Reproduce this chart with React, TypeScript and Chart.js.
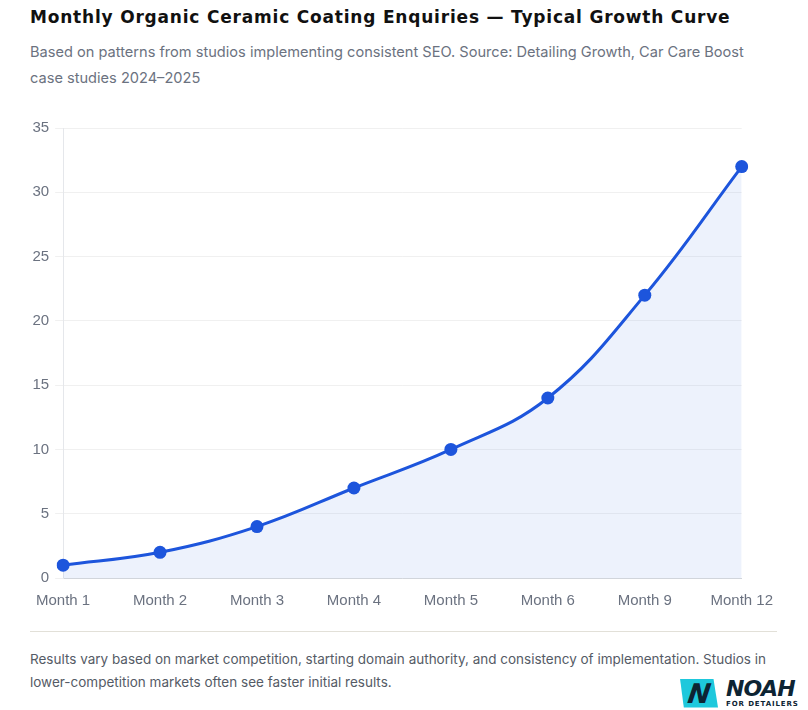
import React, { useEffect, useRef } from "react";
import { Chart, registerables } from "chart.js";

Chart.register(...registerables);

const categories = ["Month 1", "Month 2", "Month 3", "Month 4", "Month 5", "Month 6", "Month 9", "Month 12"];
const enquiries = [1, 2, 4, 7, 10, 14, 22, 32];
const yMax = 35;
const yStep = 5;

const TITLE = "Monthly Organic Ceramic Coating Enquiries \u2014 Typical Growth Curve";
const SUBTITLE = "Based on patterns from studios implementing consistent SEO. Source: Detailing Growth, Car Care Boost case studies 2024\u20132025";
const FOOTNOTE = "Results vary based on market competition, starting domain authority, and consistency of implementation. Studios in lower-competition markets often see faster initial results.";

function GrowthChart() {
  const ref = useRef<HTMLCanvasElement | null>(null);
  useEffect(() => {
    if (!ref.current) return;
    const chart = new Chart(ref.current, {
      type: "line",
      data: {
        labels: categories,
        datasets: [
          {
            label: "Enquiries",
            data: enquiries,
            borderColor: "#1d55dc",
            backgroundColor: "rgba(29,85,220,0.08)",
            borderWidth: 3,
            fill: "origin",
            tension: 0.4,
            pointRadius: 6.5,
            pointBackgroundColor: "#1d55dc",
            pointBorderColor: "#1d55dc",
            pointBorderWidth: 0,
          },
        ],
      },
      options: {
        animation: false,
        responsive: true,
        maintainAspectRatio: false,
        layout: { padding: { top: 4, right: 0, left: 0, bottom: 0 } },
        plugins: { legend: { display: false }, tooltip: { enabled: false } },
        scales: {
          x: {
            grid: { display: false, drawTicks: false },
            border: { display: true, color: "#d1d5db" },
            ticks: {
              color: "#6b7280",
              font: { family: "'Liberation Sans', Arial, sans-serif", size: 15 },
              padding: 14,
            },
          },
          y: {
            min: 0,
            max: yMax,
            grid: { color: "rgba(0,0,0,0.06)", tickLength: 8 },
            border: { display: true, color: "#e5e7eb" },
            ticks: {
              stepSize: yStep,
              color: "#6b7280",
              font: { family: "'Liberation Sans', Arial, sans-serif", size: 15 },
              padding: 6,
            },
          },
        },
      },
    });
    return () => chart.destroy();
  }, []);
  return <canvas ref={ref} />;
}

function Logo() {
  return (
    <div style={{ position: "absolute", left: 680, top: 678, width: 128, height: 30, display: "flex", alignItems: "center", whiteSpace: "nowrap" }}>
      <div
        style={{
          width: 38,
          height: 29,
          flexShrink: 0,
          background: "#1ec8dc",
          clipPath: "polygon(0 0, 88% 0, 100% 100%, 10% 100%)",
          display: "flex",
          alignItems: "center",
          justifyContent: "center",
        }}
      >
        <span style={{ fontFamily: "'DejaVu Sans', sans-serif", fontWeight: 900, fontStyle: "italic", fontSize: 27, color: "#0d2433", lineHeight: 1, transform: "skewX(-8deg)" }}>N</span>
      </div>
      <div style={{ marginLeft: 8, display: "flex", flexDirection: "column", lineHeight: 1, whiteSpace: "nowrap" }}>
        <span style={{ fontFamily: "'DejaVu Sans', sans-serif", fontWeight: 900, fontStyle: "italic", fontSize: 22, color: "#0d2433", letterSpacing: -1 }}>NOAH</span>
        <span style={{ fontFamily: "'DejaVu Sans', sans-serif", fontWeight: 700, fontSize: 7, color: "#0d2433", letterSpacing: 0.9, marginTop: 1, whiteSpace: "nowrap" }}>FOR DETAILERS</span>
      </div>
    </div>
  );
}

export default function App() {
  return (
    <div style={{ position: "fixed", left: 0, top: 0, width: 808, height: 710, background: "#ffffff", overflow: "hidden" }}>
      <div
        style={{
          position: "absolute",
          left: 30,
          top: 5,
          fontFamily: "'DejaVu Sans', sans-serif",
          fontWeight: 700,
          fontSize: 17,
          letterSpacing: 0.8,
          color: "#111111",
          whiteSpace: "nowrap",
          lineHeight: "24px",
        }}
      >
        {TITLE}
      </div>
      <div
        style={{
          position: "absolute",
          left: 30,
          top: 39,
          width: 735,
          fontFamily: "Inter, 'Noto Sans', sans-serif",
          fontSize: 14.6,
          color: "#6b7280",
          lineHeight: "26px",
        }}
      >
        {SUBTITLE}
      </div>
      <div style={{ position: "absolute", left: 22, top: 113, width: 765, height: 511 }}>
        <GrowthChart />
      </div>
      <div style={{ position: "absolute", left: 30, top: 631, width: 747, height: 1, background: "#e2e0d8" }} />
      <div
        style={{
          position: "absolute",
          left: 30,
          top: 648,
          width: 752,
          fontFamily: "Inter, 'Noto Sans', sans-serif",
          fontSize: 13.5,
          color: "#555b66",
          lineHeight: "23px",
        }}
      >
        {FOOTNOTE}
      </div>
      <Logo />
    </div>
  );
}
